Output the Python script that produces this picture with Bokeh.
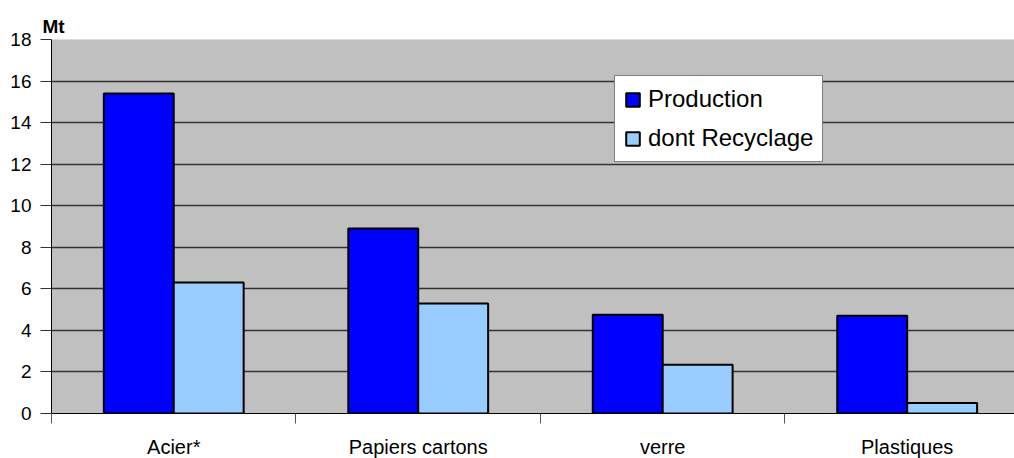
from bokeh.plotting import figure
from bokeh.models import (ColumnDataSource, FixedTicker, Legend, LegendItem, Title, Range1d)
from bokeh.transform import dodge
from bokeh.embed import file_html
from bokeh.resources import INLINE

categories = ["Acier*", "Papiers cartons", "verre", "Plastiques"]
production = [15.4, 8.9, 4.75, 4.7]
recyclage = [6.3, 5.3, 2.35, 0.5]
y_ticks = [0, 2, 4, 6, 8, 10, 12, 14, 16, 18]

centers = [i + 0.5 for i in range(len(categories))]
src = ColumnDataSource(dict(x=centers, prod=production, rec=recyclage, cat=categories))

FONT = "Liberation Sans"
BAR_W = 0.286

p = figure(frame_width=963, frame_height=374, output_backend="svg", toolbar_location=None,
           x_range=Range1d(0, 3.939), y_range=Range1d(0, 18),
           min_border_left=51, min_border_top=39, min_border_right=0, min_border_bottom=0)
p.background_fill_color = "#c0c0c0"
p.border_fill_color = "white"
p.outline_line_color = None

r1 = p.vbar(x=dodge("x", -BAR_W / 2, range=p.x_range), top="prod", width=BAR_W, bottom=0,
            source=src, fill_color="#0000ff", line_color="black", line_width=2)
r2 = p.vbar(x=dodge("x", BAR_W / 2, range=p.x_range), top="rec", width=BAR_W, bottom=0,
            source=src, fill_color="#99ccff", line_color="black", line_width=2)

# grids
p.xgrid.visible = False
p.ygrid.ticker = FixedTicker(ticks=y_ticks)
p.ygrid.grid_line_color = "#333333"
p.ygrid.grid_line_width = 1.3
p.ygrid.level = "underlay"

# y axis
ya = p.yaxis[0]
ya.ticker = FixedTicker(ticks=y_ticks)
ya.major_tick_out = 11
ya.major_tick_in = 0
ya.minor_tick_out = 0
ya.minor_tick_in = 0
ya.axis_line_color = "black"
ya.major_tick_line_color = "#333333"
ya.major_label_text_font = FONT
ya.major_label_text_font_size = "19px"
ya.major_label_text_color = "black"
ya.major_label_standoff = 9

# x axis
xa = p.xaxis[0]
xa.ticker = FixedTicker(ticks=centers, minor_ticks=list(range(len(categories))))
xa.major_label_overrides = {c: n for c, n in zip(centers, categories)}
xa.major_tick_out = 0
xa.major_tick_in = 0
xa.minor_tick_out = 10
xa.minor_tick_in = 0
xa.minor_tick_line_color = "#555555"
xa.axis_line_color = "black"
xa.major_label_text_font = FONT
xa.major_label_text_font_size = "20px"
xa.major_label_text_color = "black"
xa.major_label_standoff = 12

legend = Legend(items=[LegendItem(label="Production", renderers=[r1]),
                       LegendItem(label="dont Recyclage", renderers=[r2])],
                location=(563, 251))
legend.label_text_font = FONT
legend.label_text_font_size = "24px"
legend.label_text_color = "black"
legend.glyph_width = 17
legend.glyph_height = 17
legend.label_height = 28
legend.label_standoff = 7
legend.spacing = 11
legend.padding = 9
legend.margin = 0
legend.border_line_color = "black"
legend.border_line_width = 1
legend.background_fill_color = "white"
legend.background_fill_alpha = 1
p.add_layout(legend, "center")

mt = Title(text="Mt", align="left", offset=-9, standoff=5, text_font=FONT,
           text_font_size="19px", text_font_style="bold", text_color="black")
p.add_layout(mt, "above")

open("out.html", "w").write(file_html(p, INLINE))
